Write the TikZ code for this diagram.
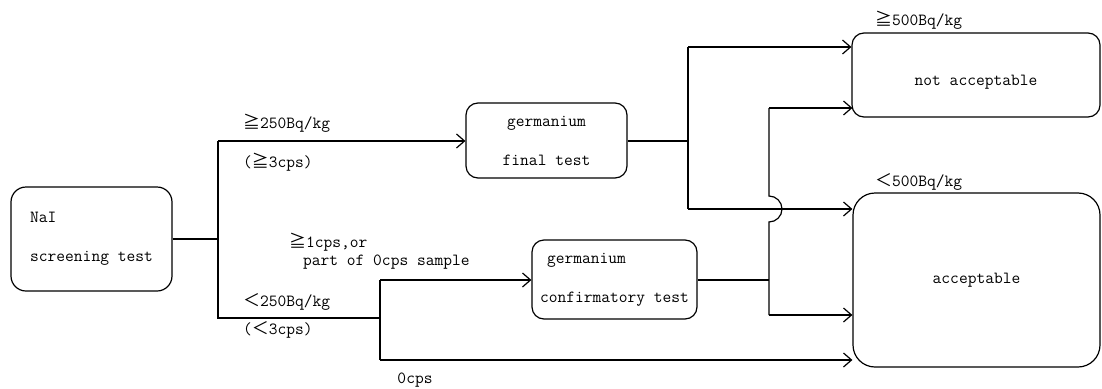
\documentclass[tikz,border=0pt]{standalone}
\usepackage{fontspec}
\newfontfamily\jpfont{Noto Sans CJK JP}
\newcommand{\gsym}{{\jpfont ≧}}
\newcommand{\lsym}{{\jpfont ＜}}
\usetikzlibrary{arrows.meta}
\tikzset{
	stagebox/.style = {draw, line width=1.2pt, rounded corners=12pt, inner sep=0pt},
	flow/.style = {line width=1.2pt},
	flowarrow/.style = {flow, -{Straight Barb[length=8pt, width=14pt, line width=1.2pt]}},
	tag/.style = {inner sep=0pt},
}

\begin{document}
\begin{tikzpicture}[x=1pt, y=-1pt, font=\ttfamily\fontsize{17}{39}\selectfont]
	\useasboundingbox (0,0) rectangle (1102,388);
	% ====== Stages ========
	\node[stagebox, rounded corners=15pt, minimum width=161pt, minimum height=104pt, align=left] (nai) at (91.5,239) {NaI\\screening test};
	\node[stagebox, minimum width=161pt, minimum height=75pt, align=center] (final) at (546.5,140.5) {germanium\\final test};
	\node[stagebox, minimum width=165pt, minimum height=79pt, align=left] (conf) at (614.5,279.5) {\hspace*{7pt}germanium\\confirmatory test};
	\node[stagebox, minimum width=248pt, minimum height=84pt] (notacc) at (976,75) {};
	\node[tag] (notacctext) at ([yshift=-7pt]notacc.center) {not acceptable};
	\node[stagebox, rounded corners=22pt, minimum width=247pt, minimum height=174pt] (acc) at (976.5,280) {acceptable};

	% ====== Junctions ========
	\coordinate (s1) at (218,239);
	\coordinate (s1up) at (218,141);
	\coordinate (s1dn) at (218,318);
	\coordinate (s2) at (380,318);
	\coordinate (s2up) at (380,280);
	\coordinate (s2dn) at (380,360);
	\coordinate (f1) at (688,141);
	\coordinate (f1up) at (688,47);
	\coordinate (f1dn) at (688,209);
	\coordinate (c1) at (769,280);
	\coordinate (c1up) at (769,108);
	\coordinate (c1dn) at (769,315);

	% ====== Screening ========
	\draw[flow] (nai.east) -- (s1);
	\draw[flow] (s1up) -- (s1dn) -- (s2);
	\draw[flowarrow] (s1up) -- (s1up -| final.west);
	\draw[flow] (s2up) -- (s2dn);
	\draw[flowarrow] (s2up) -- (s2up -| conf.west);
	\draw[flowarrow] (s2dn) -- (s2dn -| acc.west);

	% ====== Germanium ========
	\draw[flow] (final.east |- f1) -- (f1);
	\draw[flow] (f1up) -- (f1dn);
	\draw[flowarrow] (f1up) -- (f1up -| notacc.west);
	\draw[flowarrow] (f1dn) -- (f1dn -| acc.west);
	\draw[flow] (conf.east |- c1) -- (c1);
	\draw[flow] (c1up) -- ([yshift=13pt]c1 |- f1dn) arc[start angle=90, end angle=-90, radius=13pt] -- (c1dn);
	\foreach \c in {c1up, c1dn} {\draw[flowarrow] (\c) -- (\c -| acc.west);}

	% ====== Labels ========
	\node[tag, anchor=west] (hightag) at (243,123) {\gsym 250Bq/kg};
	\node[tag, anchor=west] (highcps) at (243,162) {(\gsym 3cps)};
	\node[tag, anchor=west] (onecps) at (289,242) {\gsym 1cps,or};
	\node[tag, anchor=west] (partcps) at (303,262) {part of 0cps sample};
	\node[tag, anchor=west] (lowtag) at (243,302) {\lsym 250Bq/kg};
	\node[tag, anchor=west] (lowcps) at (243,330) {(\lsym 3cps)};
	\node[tag] (zerocps) at (415,380) {0cps};
	\node[tag, anchor=west] (overtag) at (875,20) {\gsym 500Bq/kg};
	\node[tag, anchor=west] (undertag) at (875,182) {\lsym 500Bq/kg};
\end{tikzpicture}
\end{document}
